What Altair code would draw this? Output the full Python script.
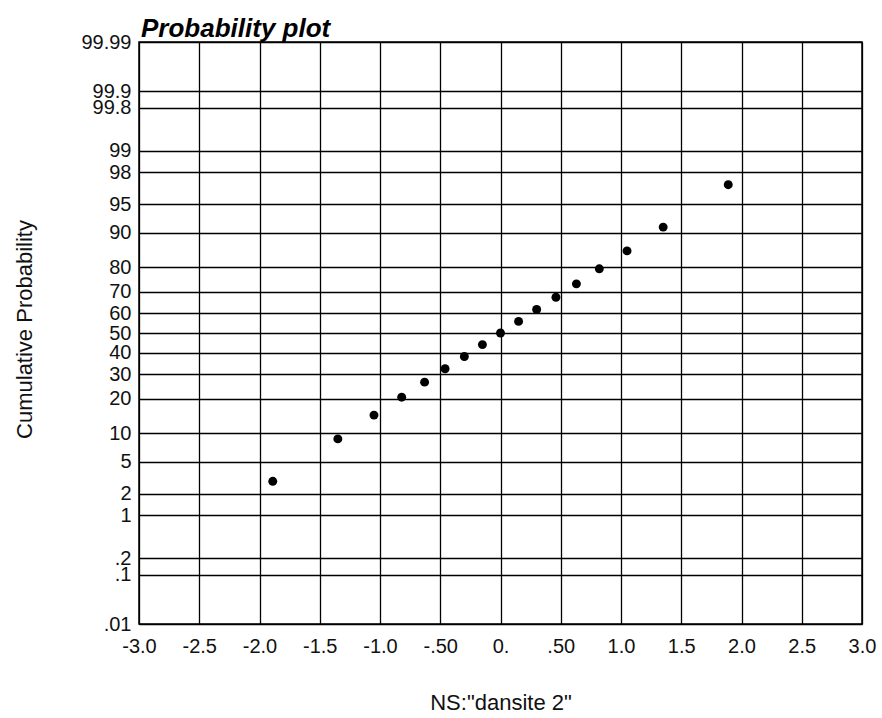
import math
from statistics import NormalDist

import altair as alt
import pandas as pd

# Sample values (x) and their cumulative probabilities in percent (y)
x_values = [-1.89, -1.35, -1.05, -0.82, -0.63, -0.46, -0.30, -0.15, 0.0,
            0.15, 0.30, 0.46, 0.63, 0.82, 1.05, 1.35, 1.89]
cum_prob = [2.9, 8.8, 14.7, 20.6, 26.5, 32.4, 38.2, 44.1, 50.0,
            55.9, 61.8, 67.6, 73.5, 79.4, 85.3, 91.2, 97.1]

# Probability-axis ticks (percent) and their printed labels
prob_ticks = [0.01, 0.1, 0.2, 1, 2, 5, 10, 20, 30, 40, 50, 60, 70, 80,
              90, 95, 98, 99, 99.8, 99.9, 99.99]
prob_labels = [".01", ".1", ".2", "1", "2", "5", "10", "20", "30", "40", "50",
               "60", "70", "80", "90", "95", "98", "99", "99.8", "99.9", "99.99"]

# Value-axis ticks and their printed labels
x_ticks = [-3.0, -2.5, -2.0, -1.5, -1.0, -0.5, 0.0, 0.5, 1.0, 1.5, 2.0, 2.5, 3.0]
x_labels = ["-3.0", "-2.5", "-2.0", "-1.5", "-1.0", "-.50", "0.", ".50",
            "1.0", "1.5", "2.0", "2.5", "3.0"]

FONT = "Liberation Sans"

# The probability axis is linear in normal scores (probit scale)
nd = NormalDist()
z_ticks = [nd.inv_cdf(p / 100) for p in prob_ticks]
z_lo, z_hi = z_ticks[0], z_ticks[-1]


def js_round(v):
    return math.floor(v + 0.5)


def label_lookup(tick_vals, labels, scale):
    keys = ",".join(str(js_round(v * scale)) for v in tick_vals)
    texts = ",".join("'" + s + "'" for s in labels)
    return f"[{texts}][indexof([{keys}], round(datum.value * {scale}))]"


df = pd.DataFrame({"x": x_values, "p": cum_prob})

common_axis = dict(
    ticks=False,
    domain=False,
    grid=True,
    gridColor="black",
    gridOpacity=1,
    gridWidth=1.3,
    labelFont=FONT,
    labelFontSize=20,
    labelColor="#111111",
    labelOverlap=False,
    labelFlush=False,
    labelBound=False,
    titleFont=FONT,
    titleFontSize=22,
    titleFontWeight="normal",
    titleColor="#111111",
)

chart = (
    alt.Chart(df)
    .transform_calculate(z="quantileNormal(datum.p / 100)")
    .mark_point(filled=True, shape="circle", size=80, color="black", opacity=1)
    .encode(
        x=alt.X(
            "x:Q",
            scale=alt.Scale(domain=[-3, 3], nice=False, zero=False),
            axis=alt.Axis(
                values=x_ticks,
                labelExpr=label_lookup(x_ticks, x_labels, 10),
                labelPadding=12,
                title='NS:"dansite 2"',
                titleX=361.5,
                titleY=85,
                titleAlign="center",
                titleBaseline="alphabetic",
                **common_axis,
            ),
        ),
        y=alt.Y(
            "z:Q",
            scale=alt.Scale(domain=[z_lo, z_hi], nice=False, zero=False),
            axis=alt.Axis(
                values=z_ticks,
                labelExpr=label_lookup(z_ticks, prob_labels, 1000),
                labelPadding=8,
                labelBaseline="middle",
                title="Cumulative Probability",
                titleAngle=270,
                titleX=-108,
                titleY=287,
                titleAlign="center",
                titleBaseline="alphabetic",
                **common_axis,
            ),
        ),
    )
    .properties(
        width=723,
        height=582,
        title=alt.TitleParams(
            "Probability plot",
            anchor="start",
            frame="group",
            font=FONT,
            fontSize=26,
            fontStyle="italic",
            fontWeight="bold",
            color="black",
            baseline="alphabetic",
            offset=7,
            dx=2,
            dy=38,
        ),
        autosize=alt.AutoSizeParams(type="none"),
        padding={"left": 139, "top": 42, "right": 20, "bottom": 94},
    )
    .configure_view(stroke="black", strokeWidth=1.5)
)

chart.save("out.html", embed_options={"renderer": "svg", "actions": False})
